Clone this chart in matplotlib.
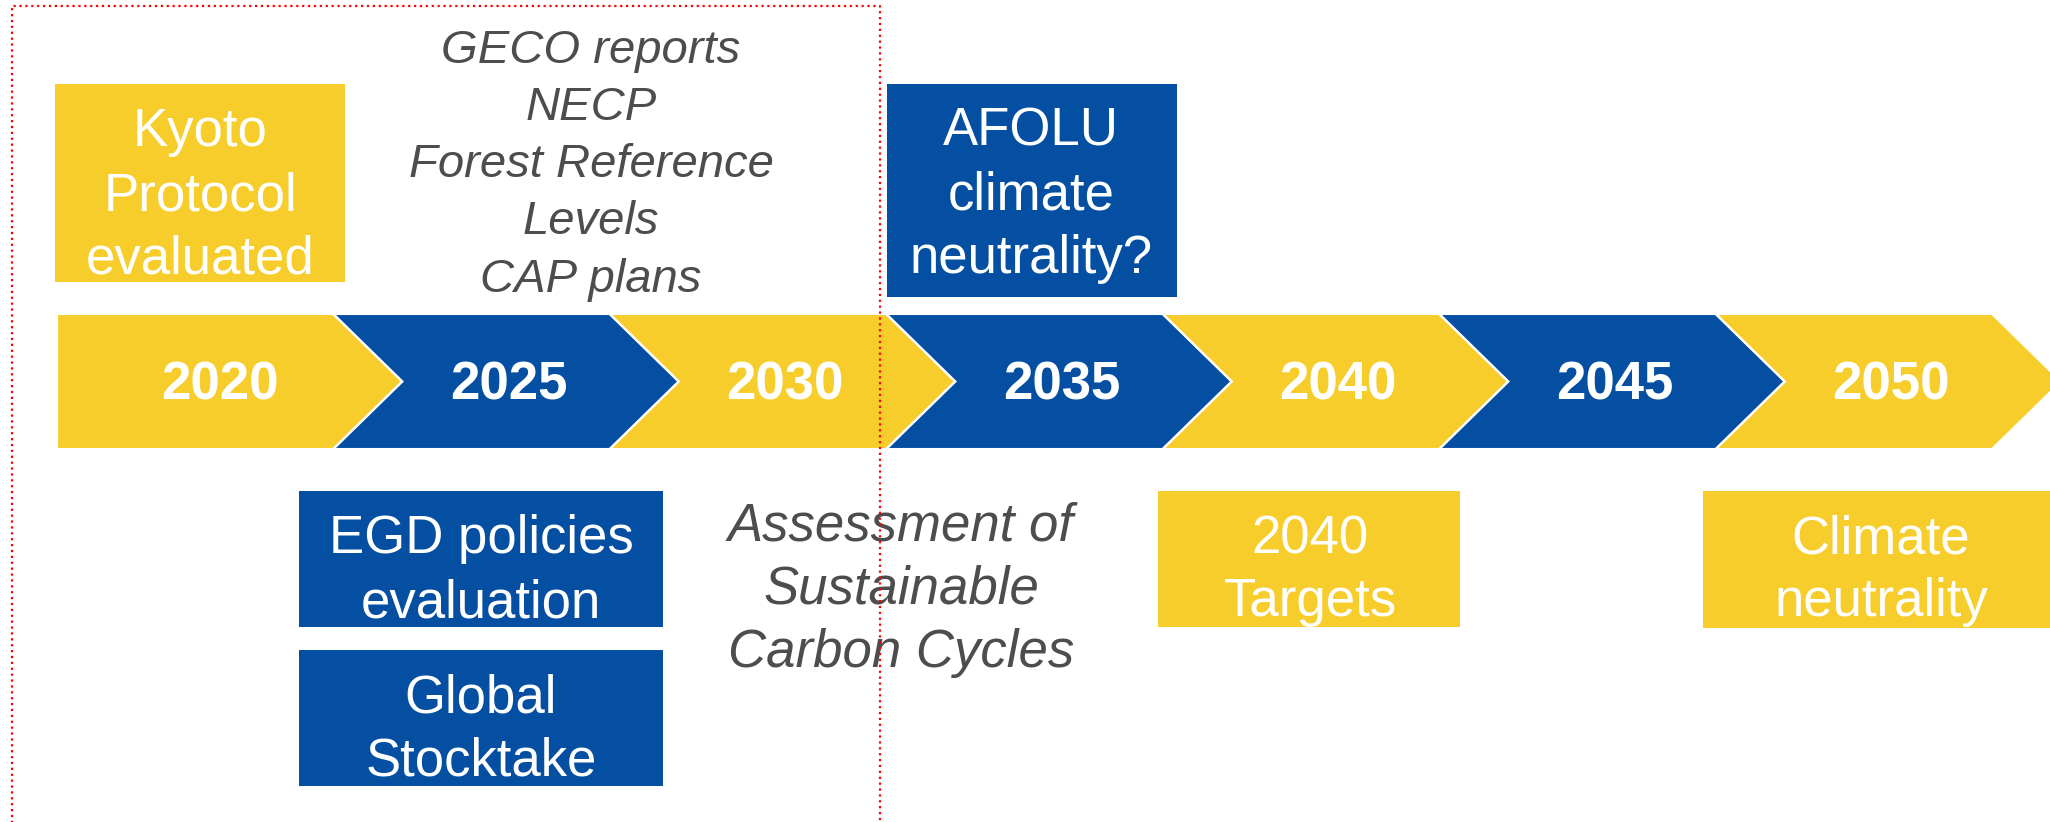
import matplotlib
matplotlib.use("Agg")
import matplotlib.pyplot as plt
from matplotlib.patches import Polygon, Rectangle

# ---------------- data ----------------
years = ["2020", "2025", "2030", "2035", "2040", "2045", "2050"]
year_colors = ["yellow", "blue", "yellow", "blue", "yellow", "blue", "yellow"]

box_texts = [
    ["Kyoto", "Protocol", "evaluated"],
    ["AFOLU", "climate", "neutrality?"],
    ["EGD policies", "evaluation"],
    ["Global", "Stocktake"],
    ["2040", "Targets"],
    ["Climate", "neutrality"],
]
box_colors = ["yellow", "blue", "blue", "blue", "yellow", "yellow"]

free_texts = [
    ["GECO reports", "NECP", "Forest Reference", "Levels", "CAP plans"],
    ["Assessment of", "Sustainable", "Carbon Cycles"],
]

# ---------------- layout (pixels) ----------------
W_PX, H_PX = 2050, 822
PALETTE = {"yellow": "#F7CD2B", "blue": "#044FA2"}
TEXT_GREY = "#4D4D4D"
FONT = ["Liberation Sans", "Arial", "DejaVu Sans"]

chev_x0, chev_step, chev_w, chev_d = 57, 276.5, 276, 69
chev_top, chev_bot = 314, 449
year_offsets = [163] + [175] * 6
year_baseline = 399

# box rectangles: (x0, y0, x1, y1), text centre x, line baselines
box_rects = [(55, 84, 345, 282), (887, 84, 1177, 297), (299, 491, 663, 627),
             (299, 650, 663, 786), (1158, 491, 1460, 627), (1703, 491, 2060, 628)]
box_cx = [200, 1031, 481, 481, 1310, 1881]
box_baselines = [[146, 210, 273], [146, 209, 273], [553, 617], [712, 775],
                 [553, 616], [553, 616]]

free_cx = [591, 901]
free_baselines = [[63, 120, 177, 234, 292], [540, 603, 667]]
free_sizes = [34, 38]

fig = plt.figure(figsize=(W_PX / 100, H_PX / 100), dpi=100)
ax = fig.add_axes([0, 0, 1, 1])
ax.set_xlim(0, W_PX)
ax.set_ylim(H_PX, 0)
ax.axis("off")

# chevrons
ymid = (chev_top + chev_bot) / 2
for i, (yr, col) in enumerate(zip(years, year_colors)):
    x0 = chev_x0 + i * chev_step
    notch = 0 if i == 0 else chev_d
    pts = [(x0, chev_top), (x0 + chev_w, chev_top), (x0 + chev_w + chev_d, ymid),
           (x0 + chev_w, chev_bot), (x0, chev_bot), (x0 + notch, ymid)]
    ax.add_patch(Polygon(pts, closed=True, facecolor=PALETTE[col],
                         edgecolor="white", linewidth=1.5, zorder=2))
    ax.text(x0 + year_offsets[i], year_baseline, yr, color="white",
            fontsize=38, fontweight="bold", family=FONT,
            ha="center", va="baseline", zorder=3)

# boxes
for lines, col, (x0, y0, x1, y1), cx, bls in zip(box_texts, box_colors, box_rects,
                                                  box_cx, box_baselines):
    ax.add_patch(Rectangle((x0, y0), x1 - x0, y1 - y0, facecolor=PALETTE[col],
                           edgecolor="none", zorder=2))
    for line, bl in zip(lines, bls):
        ax.text(cx, bl, line, color="white", fontsize=38, family=FONT,
                ha="center", va="baseline", zorder=3)

# free italic texts
for lines, cx, bls, fs in zip(free_texts, free_cx, free_baselines, free_sizes):
    for line, bl in zip(lines, bls):
        ax.text(cx, bl, line, color=TEXT_GREY, fontsize=fs, style="italic",
                family=FONT, ha="center", va="baseline", zorder=3)

# red dotted frame (bottom edge outside the picture)
ax.plot([12, 12, 880, 880], [840, 6, 6, 840], color="#FF0000", linewidth=1.6,
        linestyle=":", zorder=4, solid_capstyle="butt", dash_capstyle="butt")

fig.savefig("out.png", dpi=100, facecolor="white")
